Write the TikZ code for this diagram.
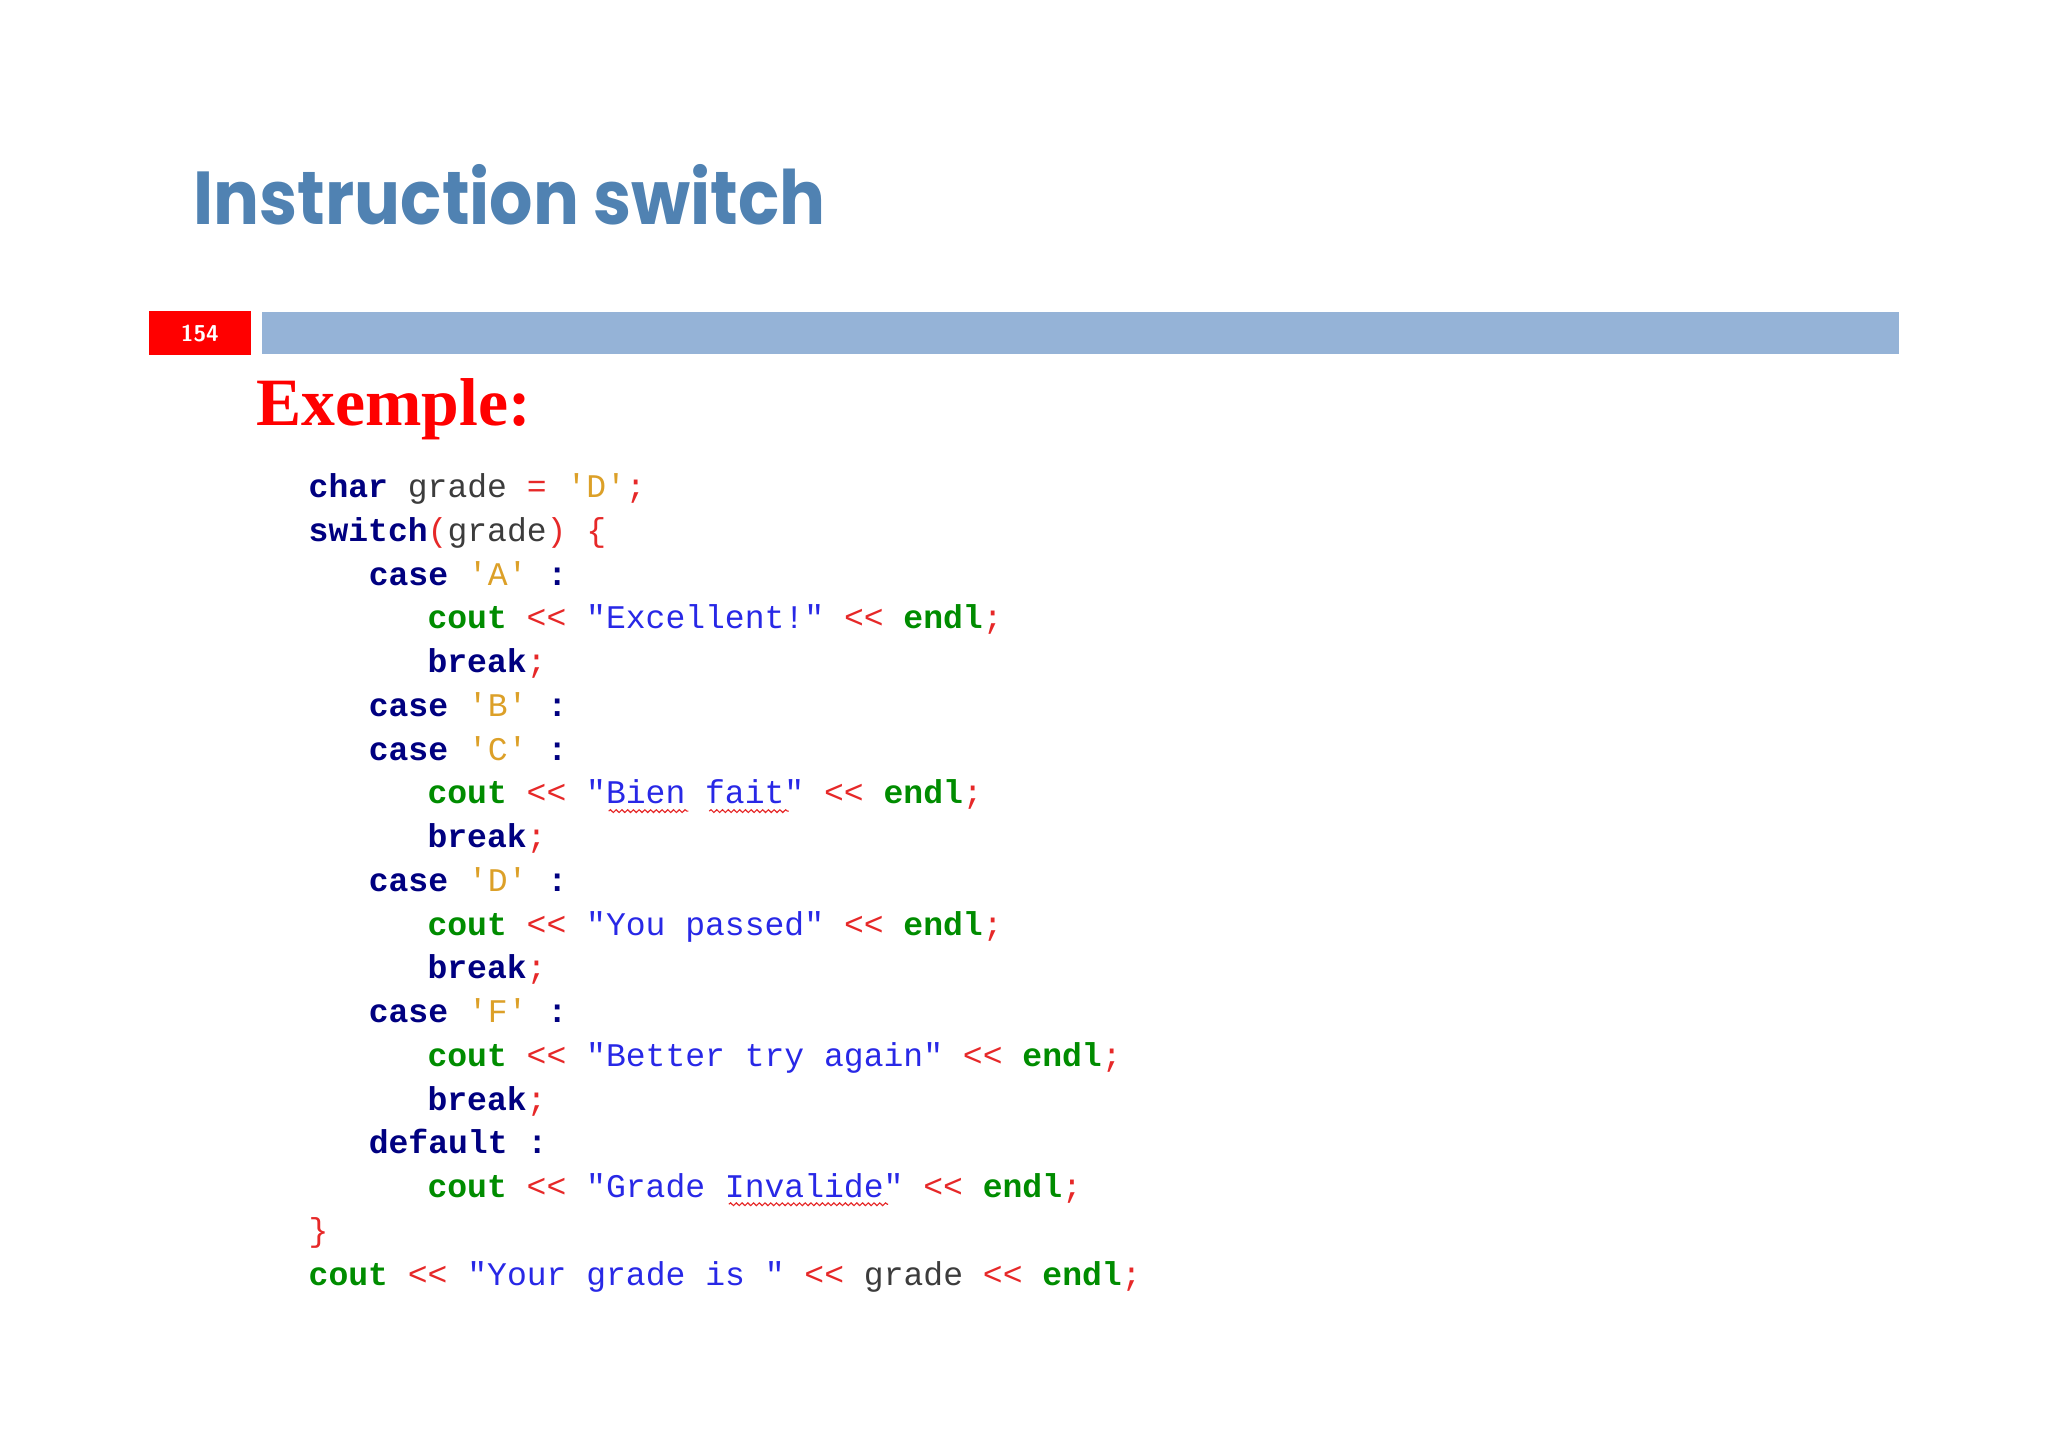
\documentclass[tikz,border=0pt]{standalone}
\usepackage{fontspec}
\setmainfont{Liberation Serif}
\newfontfamily\titlefont{Poppins}
\newfontfamily\codefont{Liberation Mono}
\usetikzlibrary{decorations.pathmorphing}
\definecolor{titleblue}{RGB}{80,130,178}
\definecolor{barblue}{RGB}{149,179,215}
\definecolor{kw}{RGB}{0,0,128}
\definecolor{gr}{RGB}{0,140,0}
\definecolor{st}{RGB}{40,40,230}
\definecolor{ch}{RGB}{220,160,40}
\definecolor{op}{RGB}{230,40,40}
\definecolor{id}{RGB}{60,60,60}
\newcommand{\K}[1]{\textcolor{kw}{\bfseries #1}}
\newcommand{\G}[1]{\textcolor{gr}{\bfseries #1}}
\newcommand{\Sx}[1]{\textcolor{st}{#1}}
\newcommand{\C}[1]{\textcolor{ch}{#1}}
\newcommand{\R}[1]{\textcolor{op}{#1}}
\newcommand{\I}[1]{\textcolor{id}{#1}}
\newcommand{\Cl}{\textcolor{kw}{\bfseries :}}
\tikzset{code/.style={anchor=base west,inner sep=0pt,font=\codefont\fontsize{14.4}{16}\selectfont},
 squig/.style={draw=op,line width=0.5pt,decorate,decoration={snake,amplitude=0.6pt,segment length=2.5pt}}}
\begin{document}
\begin{tikzpicture}[x=0.02cm,y=-0.02cm]
\useasboundingbox (0,0) rectangle (1568,1108);
\node[anchor=base west,inner sep=0pt,text=titleblue,font=\titlefont\bfseries\fontsize{35}{40}\selectfont] (title) at (148,172) {\resizebox{9.68cm}{0.92cm}{Instruction switch}};
\node[fill=red,minimum width=1.56cm,minimum height=0.68cm,inner sep=0pt,text=white,font=\sffamily\bfseries\fontsize{10}{12}\selectfont] (num) at (153,255) {154};
\node[fill=barblue,minimum width=25.08cm,minimum height=0.64cm,inner sep=0pt,anchor=west] (bar) at (200,255) {};
\node[anchor=base west,inner sep=0pt,text=red,font=\bfseries\fontsize{29.5}{34}\selectfont] (ex) at (196,326) {Exemple:};
\node[code] (l1) at (236,381) {\K{char} \I{grade} \R{=} \C{'D'}\R{;}};
\node[code] (l2) at (236,414.5) {\K{switch}\R{(}\I{grade}\R{)} \R{\{}};
\node[code] (l3) at (282,448) {\K{case} \C{'A'} \Cl};
\node[code] (l4) at (327,481.5) {\G{cout} \R{<<} \Sx{"Excellent!"} \R{<<} \G{endl}\R{;}};
\node[code] (l5) at (327,515) {\K{break}\R{;}};
\node[code] (l6) at (282,548.5) {\K{case} \C{'B'} \Cl};
\node[code] (l7) at (282,582) {\K{case} \C{'C'} \Cl};
\node[code] (l8) at (327,615.5) {\G{cout} \R{<<} \Sx{"Bien fait"} \R{<<} \G{endl}\R{;}};
\node[code] (l9) at (327,649) {\K{break}\R{;}};
\node[code] (l10) at (282,682.5) {\K{case} \C{'D'} \Cl};
\node[code] (l11) at (327,716) {\G{cout} \R{<<} \Sx{"You passed"} \R{<<} \G{endl}\R{;}};
\node[code] (l12) at (327,749.5) {\K{break}\R{;}};
\node[code] (l13) at (282,783) {\K{case} \C{'F'} \Cl};
\node[code] (l14) at (327,816.5) {\G{cout} \R{<<} \Sx{"Better try again"} \R{<<} \G{endl}\R{;}};
\node[code] (l15) at (327,850) {\K{break}\R{;}};
\node[code] (l16) at (282,883.5) {\K{default} \Cl};
\node[code] (l17) at (327,917) {\G{cout} \R{<<} \Sx{"Grade Invalide"} \R{<<} \G{endl}\R{;}};
\node[code] (l18) at (236,950.5) {\R{\}}};
\node[code] (l19) at (236,984) {\G{cout} \R{<<} \Sx{"Your grade is "} \R{<<} \I{grade} \R{<<} \G{endl}\R{;}};
\draw[squig] (466,621) -- (527,621);
\draw[squig] (543,621) -- (604,621);
\draw[squig] (558,922) -- (680,922);
\end{tikzpicture}
\end{document}
